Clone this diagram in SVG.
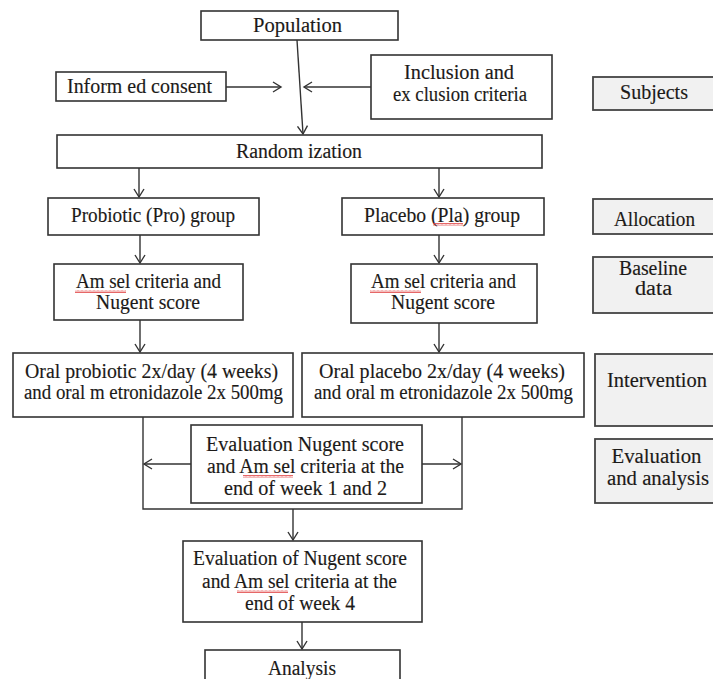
<svg xmlns="http://www.w3.org/2000/svg" width="713" height="679" viewBox="0 0 713 679">
<style>
.box{fill:#ffffff;stroke:#333333;stroke-width:1.6}
.lbl{fill:#f1f1f1;stroke:#444444;stroke-width:1.8}
text{font-family:"Liberation Serif","Times New Roman",serif;font-size:20px;fill:#1c1a18;stroke:#1c1a18;stroke-width:0.15;text-anchor:middle}
.c{fill:none;stroke:#333333;stroke-width:1.4}
.sq{fill:url(#squig)}
</style>
<defs>
<marker id="arr" markerUnits="userSpaceOnUse" markerWidth="12" markerHeight="12" refX="10" refY="6" orient="auto">
<path d="M2,1 L10,6 L2,11" fill="none" stroke="#333333" stroke-width="1.4"/>
</marker>
<pattern id="squig" patternUnits="userSpaceOnUse" width="4" height="3">
<path d="M0,2.5 L1,0.5 L2,2.5 L3,0.5 L4,2.5" fill="none" stroke="#e04040" stroke-width="0.8"/>
</pattern>
</defs>
<rect width="713" height="679" fill="#ffffff"/>

<g id="connectors">
<line class="c" x1="297" y1="40" x2="303" y2="134" marker-end="url(#arr)"/>
<line class="c" x1="226" y1="87" x2="281" y2="87" marker-end="url(#arr)"/>
<line class="c" x1="371" y1="87" x2="304" y2="87" marker-end="url(#arr)"/>
<line class="c" x1="139" y1="168" x2="139" y2="197" marker-end="url(#arr)"/>
<line class="c" x1="439" y1="168" x2="439" y2="197" marker-end="url(#arr)"/>
<line class="c" x1="140" y1="235" x2="140" y2="263" marker-end="url(#arr)"/>
<line class="c" x1="439" y1="235" x2="439" y2="263" marker-end="url(#arr)"/>
<line class="c" x1="140" y1="320" x2="140" y2="352" marker-end="url(#arr)"/>
<line class="c" x1="439" y1="323" x2="439" y2="352" marker-end="url(#arr)"/>
<polyline class="c" points="143,417 143,509 462,509 462,417"/>
<line class="c" x1="191" y1="464" x2="144" y2="464" marker-end="url(#arr)"/>
<line class="c" x1="422" y1="464" x2="461" y2="464" marker-end="url(#arr)"/>
<line class="c" x1="293" y1="509" x2="293" y2="540" marker-end="url(#arr)"/>
<line class="c" x1="302" y1="622" x2="302" y2="649" marker-end="url(#arr)"/>
</g>

<g id="population">
<rect class="box" x="201" y="11" width="197" height="29"/>
<text x="297.5" y="32" textLength="89" lengthAdjust="spacingAndGlyphs">Population</text>
</g>
<g id="informed-consent">
<rect class="box" x="56" y="72" width="170" height="29"/>
<text x="139.5" y="93" textLength="145" lengthAdjust="spacingAndGlyphs">Inform ed consent</text>
</g>
<g id="inclusion">
<rect class="box" x="371" y="55" width="181" height="64"/>
<text x="459" y="79" textLength="110" lengthAdjust="spacingAndGlyphs">Inclusion and</text>
<text x="460" y="101" textLength="134" lengthAdjust="spacingAndGlyphs">ex clusion criteria</text>
</g>
<g id="randomization">
<rect class="box" x="57" y="135" width="485" height="33"/>
<text x="299" y="158" textLength="126" lengthAdjust="spacingAndGlyphs">Random ization</text>
</g>
<g id="probiotic-group">
<rect class="box" x="48" y="198" width="211" height="37"/>
<text x="153" y="222" textLength="164" lengthAdjust="spacingAndGlyphs">Probiotic (Pro) group</text>
</g>
<g id="placebo-group">
<rect class="box" x="342" y="198" width="202" height="37"/>
<text x="442" y="222" textLength="156" lengthAdjust="spacingAndGlyphs">Placebo (Pla) group</text>
<rect class="sq" x="433" y="223" width="30" height="3"/>
</g>
<g id="amsel-pro">
<rect class="box" x="54" y="264" width="189" height="56"/>
<text x="148.5" y="288" textLength="145" lengthAdjust="spacingAndGlyphs">Am sel criteria and</text>
<text x="148" y="309" textLength="104" lengthAdjust="spacingAndGlyphs">Nugent score</text>
<rect class="sq" x="75" y="290" width="51" height="3"/>
</g>
<g id="amsel-pla">
<rect class="box" x="351" y="264" width="186" height="59"/>
<text x="443.5" y="288" textLength="145" lengthAdjust="spacingAndGlyphs">Am sel criteria and</text>
<text x="443" y="309" textLength="104" lengthAdjust="spacingAndGlyphs">Nugent score</text>
<rect class="sq" x="370" y="290" width="51" height="3"/>
</g>
<g id="oral-pro">
<rect class="box" x="13" y="353" width="280" height="64"/>
<text x="151.5" y="378" textLength="253" lengthAdjust="spacingAndGlyphs">Oral probiotic 2x/day (4 weeks)</text>
<text x="153.5" y="399" textLength="259" lengthAdjust="spacingAndGlyphs">and oral m etronidazole 2x 500mg</text>
</g>
<g id="oral-pla">
<rect class="box" x="302" y="353" width="282" height="64"/>
<text x="442" y="378" textLength="246" lengthAdjust="spacingAndGlyphs">Oral placebo 2x/day (4 weeks)</text>
<text x="443.5" y="399" textLength="259" lengthAdjust="spacingAndGlyphs">and oral m etronidazole 2x 500mg</text>
</g>
<g id="eval-week12">
<rect class="box" x="191" y="425" width="231" height="78"/>
<text x="305" y="451" textLength="198" lengthAdjust="spacingAndGlyphs">Evaluation Nugent score</text>
<text x="305.5" y="473" textLength="197" lengthAdjust="spacingAndGlyphs">and Am sel criteria at the</text>
<text x="305.5" y="495" textLength="163" lengthAdjust="spacingAndGlyphs">end of week 1 and 2</text>
<rect class="sq" x="243" y="475" width="50" height="3"/>
</g>
<g id="eval-week4">
<rect class="box" x="183" y="541" width="239" height="81"/>
<text x="300" y="565" textLength="214" lengthAdjust="spacingAndGlyphs">Evaluation of Nugent score</text>
<text x="299.5" y="588" textLength="195" lengthAdjust="spacingAndGlyphs">and Am sel criteria at the</text>
<text x="300" y="610" textLength="110" lengthAdjust="spacingAndGlyphs">end of week 4</text>
<rect class="sq" x="237" y="590" width="51" height="3"/>
</g>
<g id="analysis">
<rect class="box" x="205" y="650" width="195" height="40"/>
<text x="302" y="675" textLength="68" lengthAdjust="spacingAndGlyphs">Analysis</text>
</g>

<g id="label-subjects">
<rect class="lbl" x="593" y="77" width="130" height="33"/>
<text x="654" y="99" textLength="68" lengthAdjust="spacingAndGlyphs">Subjects</text>
</g>
<g id="label-allocation">
<rect class="lbl" x="593" y="199" width="130" height="35"/>
<text x="654.5" y="226" textLength="81" lengthAdjust="spacingAndGlyphs">Allocation</text>
</g>
<g id="label-baseline">
<rect class="lbl" x="593" y="257" width="130" height="56"/>
<text x="653" y="275" textLength="68" lengthAdjust="spacingAndGlyphs">Baseline</text>
<text x="653.5" y="295" textLength="37" lengthAdjust="spacingAndGlyphs">data</text>
</g>
<g id="label-intervention">
<rect class="lbl" x="595" y="354" width="130" height="72"/>
<text x="657" y="387" textLength="100" lengthAdjust="spacingAndGlyphs">Intervention</text>
</g>
<g id="label-evaluation">
<rect class="lbl" x="595" y="439" width="130" height="64"/>
<text x="656.5" y="463" textLength="90" lengthAdjust="spacingAndGlyphs">Evaluation</text>
<text x="658" y="485" textLength="102" lengthAdjust="spacingAndGlyphs">and analysis</text>
</g>
</svg>
